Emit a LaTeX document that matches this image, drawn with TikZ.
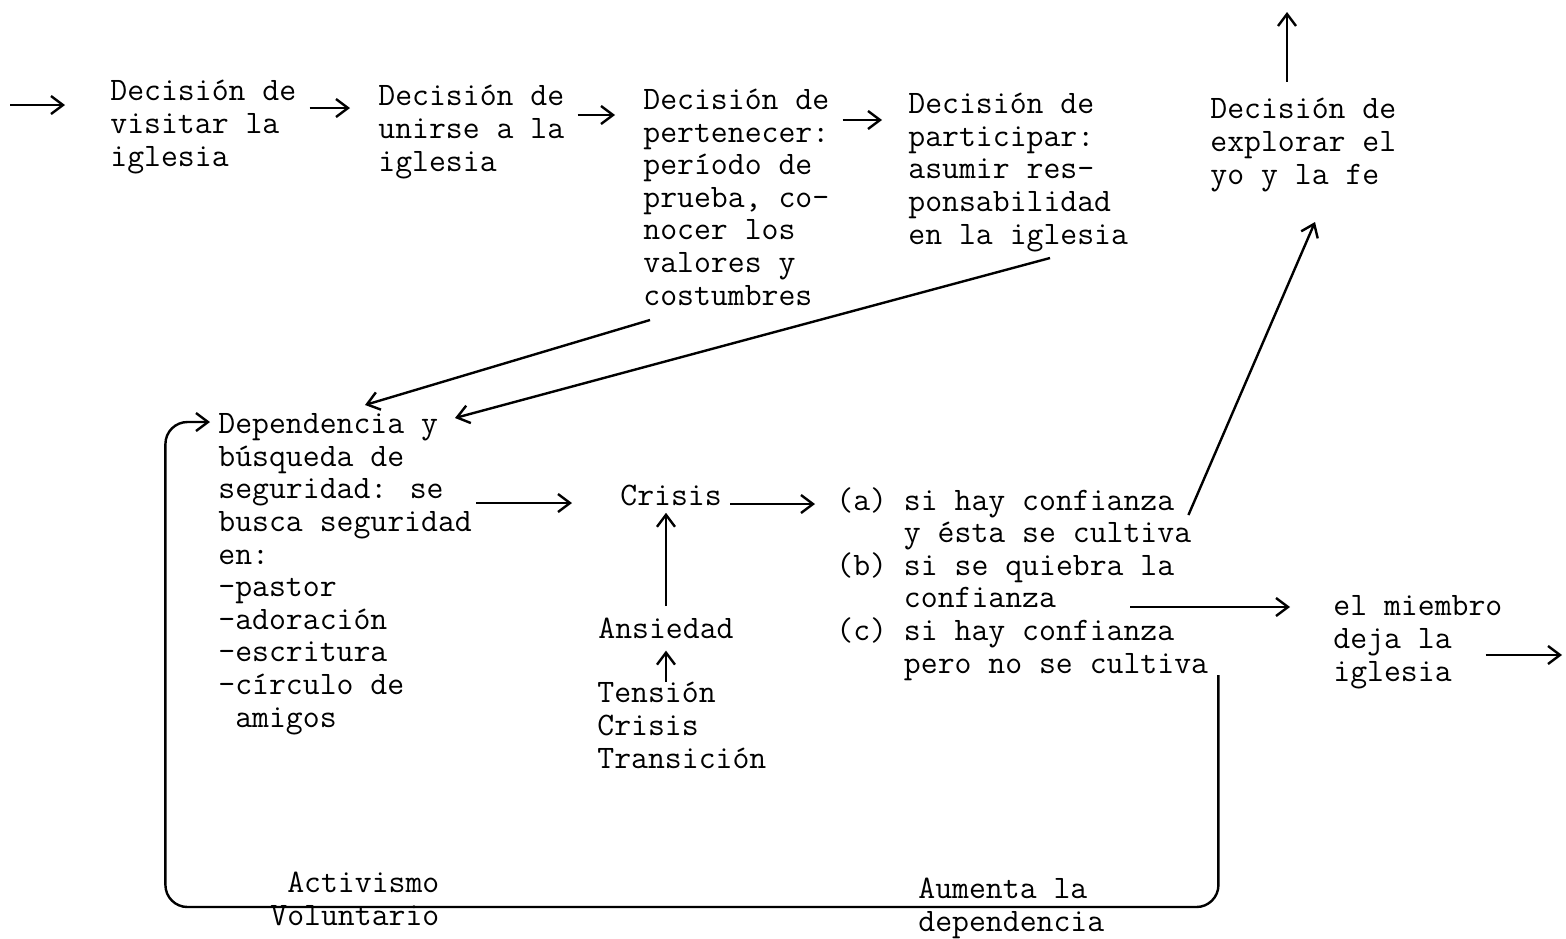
\documentclass[tikz,border=0pt]{standalone}
\usepackage{fontspec}
\usetikzlibrary{arrows.meta,calc}

\begin{document}
\begin{tikzpicture}
    [x=0.5pt,y=-0.5pt,
    every node/.style={font=\ttfamily\fontsize{16.4}{16.3}\selectfont,
      inner sep=0pt, anchor=base west, align=left},
    arr/.style={-{Straight Barb[length=6pt,width=9pt]}, line width=1.2pt}]
  \useasboundingbox (0,0) rectangle (1566,938);
  % decisiones (base = ultima linea)
  \node (visit) at (110,166) {Decisión de\\visitar la\\iglesia};
  \node (unir) at (378,171) {Decisión de\\unirse a la\\iglesia};
  \node (perten) at (643,305) {Decisión de\\pertenecer:\\período de\\prueba, co-\\nocer los\\valores y\\costumbres};
  \node (partic) at (908,244) {Decisión de\\participar:\\asumir res-\\ponsabilidad\\en la iglesia};
  \node (explor) at (1210,184) {Decisión de\\explorar el\\yo y la fe};
  % dependencia
  \node (dep) at (218,727) {Dependencia y\\búsqueda de\\seguridad: se\\busca seguridad\\en:\\-pastor\\-adoración\\-escritura\\-círculo de\\\ amigos};
  \node (crisis) at (620,505) {Crisis};
  \node (ansied) at (598,638) {Ansiedad};
  \node (tension) at (597,768) {Tensión\\Crisis\\Transición};
  \node (opts) at (836,673) {(a) si hay confianza\\\hphantom{(a) }y ésta se cultiva\\(b) si se quiebra la\\\hphantom{(b) }confianza\\(c) si hay confianza\\\hphantom{(c) }pero no se cultiva};
  \node (miembro) at (1333,681) {el miembro\\deja la\\iglesia};
  \node (activ) at (270,925) {\ Activismo\\Voluntario};
  \node (aument) at (918,931) {Aumenta la\\dependencia};
  \coordinate (entra) at (10,105);
  \coordinate (arriba) at (1287,12);
  \coordinate (sale) at (1562,655);

  \draw[arr, shorten >=22.5pt] (entra) -- (visit.west |- entra);
  \draw[arr, shorten <=6.5pt, shorten >=14pt] (visit.east |- 0,108) -- (unir.west |- 0,108);
  \draw[arr, shorten <=6.5pt, shorten >=14pt] (unir.east |- 0,115) -- (perten.west |- 0,115);
  \draw[arr, shorten <=6.5pt, shorten >=13pt] (perten.east |- 0,120) -- (partic.west |- 0,120);
  \draw[arr, shorten <=8pt] (arriba |- explor.north) -- (arriba);
  \draw[arr] ($(perten.west |- 0,320)+(7,0)$) -- ($(dep.west |- 0,405)+(147,0)$);
  \draw[arr] ($(partic.west |- 0,258)+(142,0)$) -- ($(dep.west |- 0,418)+(237,0)$);
  \draw[arr, shorten <=2pt, shorten >=24pt] (dep.east |- 0,503) -- (crisis.west |- 0,503);
  \draw[arr, shorten <=4pt, shorten >=10.5pt] (crisis.east |- 0,504) -- (opts.west |- 0,504);
  \draw[arr] ($(opts.east |- 0,515)+(-20,0)$) -- ($(explor.west |- 0,222)+(105,0)$);
  \draw[arr, shorten >=21.5pt] ($(opts.west |- 0,607)+(294,0)$) -- (miembro.west |- 0,607);
  \draw[arr] ($(miembro.east |- sale)+(-17,0)$) -- (sale);
  \draw[arr, shorten <=5.5pt, shorten >=3.5pt] (ansied.north) -- (ansied.north |- crisis.south);
  \draw[arr, shorten >=6pt] (tension.north -| ansied.south) -- (ansied.south);
  % ciclo de vuelta
  \draw[arr, rounded corners=11pt, shorten >=4pt] ($(opts.east |- 0,675)+(10,0)$) -- ++(0,232) -- ++(-1053,0) -- ++(0,-485) -- (dep.west |- 0,422);
\end{tikzpicture}
\end{document}
